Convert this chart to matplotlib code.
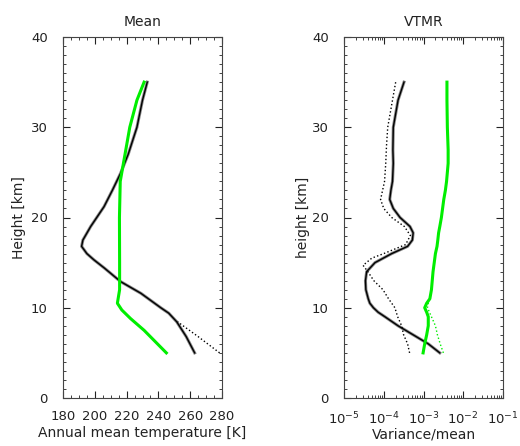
import matplotlib.pyplot as plt
import numpy as np
from matplotlib.ticker import MultipleLocator, LogLocator, NullFormatter

# Mean temperature [K] vs height [km]
z_black = [5, 6.8, 8.45, 9.4, 10, 11.6, 12.9, 14.4, 15.3, 16, 16.8, 17.5, 19, 20.1, 21.2, 23, 24.9, 27, 30, 33, 35]
t_black = [262.8, 257.5, 251.5, 246.5, 241.5, 229, 216.2, 206, 199.5, 195, 191.7, 192.5, 197.4, 201.6, 205.8, 211, 216.2, 221, 226.5, 230, 233]
z_black_dot = [5, 6.8, 8.45]
t_black_dot = [278.5, 265, 252]
z_green = [5, 7.5, 8.8, 9.75, 10.5, 12, 15, 20, 24, 25, 27, 30, 33, 35]
t_green = [245, 231, 222.5, 217, 214.2, 215.6, 215.6, 215.5, 216, 217, 219, 222, 226.5, 231]

# VTMR (variance/mean), log10 values
z = [5, 6, 7, 8, 9, 9.5, 10, 10.5, 11, 12, 13, 14, 15, 16, 16.8, 17.5, 18.3, 19, 20, 21, 22, 23, 24, 25, 26, 27.5, 30, 33, 35]
v_black = [-2.59, -2.88, -3.26, -3.64, -3.97, -4.14, -4.26, -4.35, -4.39, -4.45, -4.46, -4.43, -4.22, -3.80, -3.40, -3.28, -3.26, -3.34, -3.59, -3.76, -3.85, -3.82, -3.78, -3.77, -3.76, -3.77, -3.76, -3.64, -3.49]
v_green = [-3.01, -2.97, -2.92, -2.88, -2.88, -2.92, -2.97, -2.92, -2.84, -2.80, -2.78, -2.76, -2.73, -2.70, -2.66, -2.64, -2.62, -2.59, -2.55, -2.52, -2.49, -2.45, -2.42, -2.40, -2.38, -2.38, -2.40, -2.41, -2.41]
zb_dot = [5, 6, 7, 8, 9, 10, 11, 12, 13, 14, 14.7, 15.5, 16, 17, 18, 19, 20, 21, 22, 23, 24, 26, 28, 30, 33, 35]
vb_dot = [-3.35, -3.40, -3.50, -3.55, -3.65, -3.72, -3.88, -4.02, -4.25, -4.40, -4.52, -4.30, -4.00, -3.45, -3.33, -3.48, -3.80, -4.00, -4.08, -4.03, -3.98, -3.95, -3.93, -3.90, -3.78, -3.70]
zg_dot = [5, 6, 7, 8, 9, 10, 11]
vg_dot = [-2.50, -2.58, -2.65, -2.70, -2.80, -2.90, -2.86]

plt.rcParams['font.family'] = 'DejaVu Sans'
plt.rcParams['font.size'] = 10
txt = '#222222'

fig = plt.figure(figsize=(5.2, 4.46), dpi=100)
ax1 = fig.add_axes([63 / 520, 48 / 446, 159 / 520, 361 / 446])
ax2 = fig.add_axes([344 / 520, 48 / 446, 159 / 520, 361 / 446])

ax1.plot(t_black, z_black, color='#888888', lw=2.2)
ax1.plot(t_black, z_black, color='black', lw=1.0)
ax1.plot(t_black_dot, z_black_dot, color='black', lw=1.0, ls=':')
ax1.plot(t_green, z_green, color='#00ee00', lw=2.2)
ax1.set_xlim(180, 280)
ax1.set_ylim(0, 40)
ax1.xaxis.set_major_locator(MultipleLocator(20))
ax1.xaxis.set_minor_locator(MultipleLocator(5))
ax1.set_title('Mean', fontsize=10, color=txt, pad=8)
ax1.set_xlabel('Annual mean temperature [K]', color=txt, labelpad=2)
ax1.set_ylabel('Height [km]', color=txt, labelpad=3.5)

ax2.plot(10.0 ** np.array(v_black), z, color='#888888', lw=2.2)
ax2.plot(10.0 ** np.array(v_black), z, color='black', lw=1.0)
ax2.plot(10.0 ** np.array(vb_dot), zb_dot, color='black', lw=1.0, ls=':')
ax2.plot(10.0 ** np.array(v_green), z, color='#00ee00', lw=2.2)
ax2.plot(10.0 ** np.array(vg_dot), zg_dot, color='#00ee00', lw=1.0, ls=':')
ax2.set_xscale('log')
ax2.set_xlim(1e-5, 1e-1)
ax2.set_ylim(0, 40)
ax2.xaxis.set_major_locator(LogLocator(base=10, numticks=10))
ax2.xaxis.set_minor_locator(LogLocator(base=10, subs=np.arange(2, 10), numticks=20))
ax2.xaxis.set_minor_formatter(NullFormatter())
ax2.set_title('VTMR', fontsize=10, color=txt, pad=8)
ax2.set_xlabel('Variance/mean', color=txt, labelpad=0)
ax2.set_ylabel('height [km]', color=txt, labelpad=1)

for ax in (ax1, ax2):
    ax.yaxis.set_major_locator(MultipleLocator(10))
    ax.yaxis.set_minor_locator(MultipleLocator(1))
    ax.tick_params(which='both', direction='in', top=True, right=True, colors=txt, labelsize=9.5)
    ax.tick_params(which='major', length=5)
    ax.tick_params(which='minor', length=2.5)
    ax.tick_params(axis='x', pad=9)
    ax.tick_params(axis='y', pad=11)
    for s in ax.spines.values():
        s.set_color('#444444')
        s.set_linewidth(0.8)

fig.savefig('out.png', dpi=100)
